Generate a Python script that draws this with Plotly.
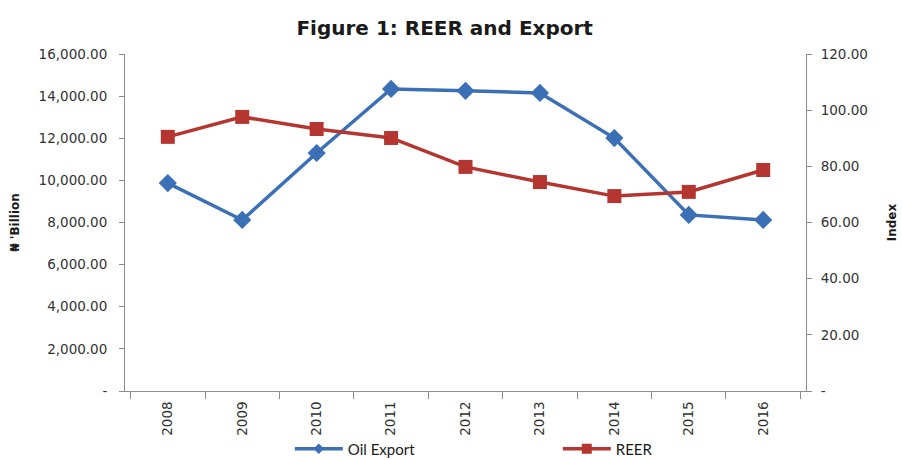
import plotly.graph_objects as go

years = ["2008", "2009", "2010", "2011", "2012", "2013", "2014", "2015", "2016"]
oil_export = [9870, 8120, 11300, 14340, 14250, 14150, 12010, 8360, 8120]
reer = [90.5, 97.6, 93.3, 90.1, 79.8, 74.4, 69.4, 70.9, 78.7]

left_ticks = [0, 2000, 4000, 6000, 8000, 10000, 12000, 14000, 16000]
left_text = ["-"] + [f"{v:,.2f}" for v in left_ticks[1:]]
right_ticks = [0, 20, 40, 60, 80, 100, 120]
right_text = ["-"] + [f"{v:.2f}" for v in right_ticks[1:]]

blue = "#3B6FB6"
red = "#B53530"
axis_grey = "#8C8C8C"
tick_font = dict(family="DejaVu Sans, Verdana, sans-serif", size=13.5, color="#333333")
label_font = dict(family="DejaVu Sans, Verdana, sans-serif", size=12, color="#1a1a1a")

fig = go.Figure()
fig.add_trace(go.Scatter(
    x=years, y=oil_export, name="Oil Export", mode="lines+markers",
    line=dict(color=blue, width=3.5),
    marker=dict(symbol="diamond", size=14, color=blue),
    yaxis="y", showlegend=False,
))
fig.add_trace(go.Scatter(
    x=years, y=reer, name="REER", mode="lines+markers",
    line=dict(color=red, width=3.5),
    marker=dict(symbol="square", size=14, color=red),
    yaxis="y2", showlegend=False,
))
# Legend keys with smaller symbols, as in the Excel-style legend
fig.add_trace(go.Scatter(
    x=[None], y=[None], name="Oil Export", mode="lines+markers",
    line=dict(color=blue, width=3.5),
    marker=dict(symbol="diamond", size=8, color=blue),
))
fig.add_trace(go.Scatter(
    x=[None], y=[None], name="REER", mode="lines+markers",
    line=dict(color=red, width=3.5),
    marker=dict(symbol="square", size=10, color=red),
    yaxis="y2",
))

fig.update_layout(
    width=902, height=460,
    margin=dict(l=125, r=96, t=54, b=69, autoexpand=False),
    paper_bgcolor="white", plot_bgcolor="white",
    title=dict(
        text="<b>Figure 1: REER and Export</b>",
        x=0.493, xanchor="center", y=0.94, yanchor="middle",
        font=dict(family="DejaVu Sans, Verdana, sans-serif", size=20, color="#1a1a1a"),
    ),
    xaxis=dict(
        type="category", tickson="boundaries", ticks="outside", ticklen=7,
        tickcolor=axis_grey, showline=True, linecolor=axis_grey, linewidth=1,
        showgrid=False, tickangle=-90, tickfont=tick_font, zeroline=False,
        automargin=False, ticklabelstandoff=4,
    ),
    yaxis=dict(
        range=[0, 16000], tickvals=left_ticks, ticktext=left_text,
        ticks="outside", ticklen=5, tickcolor=axis_grey,
        showline=True, linecolor=axis_grey, linewidth=1,
        showgrid=False, zeroline=False, tickfont=tick_font, automargin=False,
        ticklabelstandoff=9,
        title=dict(text="<b>₦ 'Billion</b>", standoff=16, font=label_font),
    ),
    yaxis2=dict(
        range=[0, 120], tickvals=right_ticks, ticktext=right_text,
        overlaying="y", side="right",
        ticks="outside", ticklen=5, tickcolor=axis_grey,
        showline=True, linecolor=axis_grey, linewidth=1,
        showgrid=False, zeroline=False, tickfont=tick_font, automargin=False,
        ticklabelstandoff=6,
        title=dict(text="<b>Index</b>", standoff=20, font=label_font),
    ),
    legend=dict(
        orientation="h", x=0.242, xanchor="left", y=-0.172, yanchor="middle",
        entrywidth=205, entrywidthmode="pixels", bgcolor="rgba(0,0,0,0)",
        font=dict(family="Lato, Open Sans, sans-serif", size=15, color="#1a1a1a"),
        itemwidth=48,
    ),
)

fig.write_html("out.html")
